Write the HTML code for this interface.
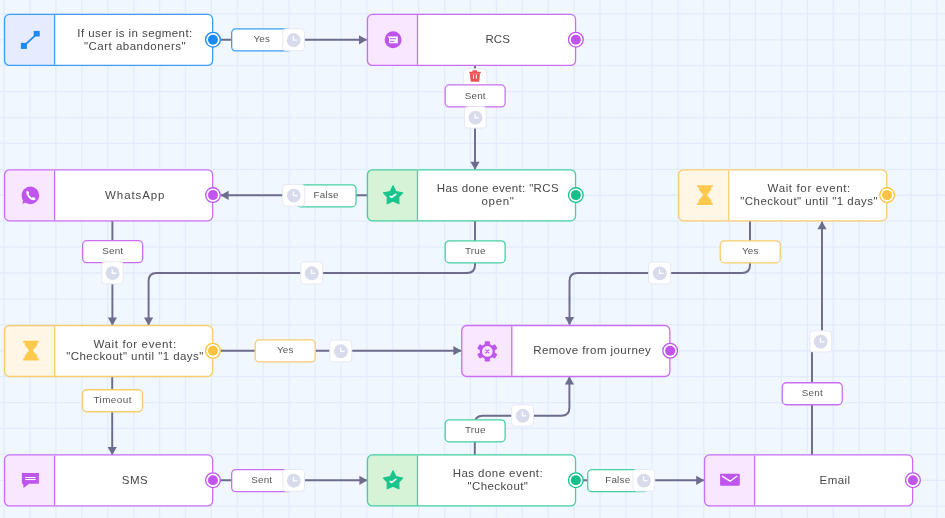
<!DOCTYPE html>
<html><head><meta charset="utf-8"><style>
*{box-sizing:border-box;margin:0;padding:0}
html,body{width:945px;height:518px;overflow:hidden;background:#f1f7ff;font-family:"Liberation Sans",sans-serif}
svg{display:block;position:absolute;left:0;top:0}
.t{position:absolute;text-align:center;white-space:nowrap}
.n{width:240px;font-size:11.5px;line-height:13px;color:#474747}
.l{width:80px;font-size:9.9px;line-height:12px;color:#575757}
</style></head><body>
<svg width="945" height="518" viewBox="0 0 945 518"><path d="M4.10 0V518M30.01 0V518M55.92 0V518M81.83 0V518M107.74 0V518M133.65 0V518M159.56 0V518M185.47 0V518M211.38 0V518M237.29 0V518M263.20 0V518M289.11 0V518M315.02 0V518M340.93 0V518M366.84 0V518M392.75 0V518M418.66 0V518M444.57 0V518M470.48 0V518M496.39 0V518M522.30 0V518M548.21 0V518M574.12 0V518M600.03 0V518M625.94 0V518M651.85 0V518M677.76 0V518M703.67 0V518M729.58 0V518M755.49 0V518M781.40 0V518M807.31 0V518M833.22 0V518M859.13 0V518M885.04 0V518M910.95 0V518M936.86 0V518M0 13.90H945M0 39.81H945M0 65.72H945M0 91.63H945M0 117.54H945M0 143.45H945M0 169.36H945M0 195.27H945M0 221.18H945M0 247.09H945M0 273.00H945M0 298.91H945M0 324.82H945M0 350.73H945M0 376.64H945M0 402.55H945M0 428.46H945M0 454.37H945M0 480.28H945M0 506.19H945" stroke="#e2ecfc" stroke-width="1.296" fill="none"/><path d="M213 39.8 H366.6" fill="none" stroke="#6d6c8d" stroke-width="1.94"/><polygon points="367,39.8 359,35.199999999999996 359,44.4" fill="#6d6c8d"/><path d="M475 65 V169.4" fill="none" stroke="#6d6c8d" stroke-width="1.94"/><polygon points="475,169.8 470.4,161.8 479.6,161.8" fill="#6d6c8d"/><path d="M367 195.3 H221" fill="none" stroke="#6d6c8d" stroke-width="1.94"/><polygon points="220.6,195.3 228.6,190.70000000000002 228.6,199.9" fill="#6d6c8d"/><path d="M112.4 221 V325" fill="none" stroke="#6d6c8d" stroke-width="1.94"/><polygon points="112.4,325.4 107.80000000000001,317.4 117.0,317.4" fill="#6d6c8d"/><path d="M475 221 V265 Q475 273 467 273 H156.6 Q148.6 273 148.6 281 V325" fill="none" stroke="#6d6c8d" stroke-width="1.94"/><polygon points="148.6,325.4 144.0,317.4 153.2,317.4" fill="#6d6c8d"/><path d="M213 350.7 H461" fill="none" stroke="#6d6c8d" stroke-width="1.94"/><polygon points="461.4,350.7 453.4,346.09999999999997 453.4,355.3" fill="#6d6c8d"/><path d="M112.2 376 V454.6" fill="none" stroke="#6d6c8d" stroke-width="1.94"/><polygon points="112.2,455 107.60000000000001,447 116.8,447" fill="#6d6c8d"/><path d="M213 480.3 H367" fill="none" stroke="#6d6c8d" stroke-width="1.94"/><polygon points="367.4,480.3 359.4,475.7 359.4,484.90000000000003" fill="#6d6c8d"/><path d="M474.8 455 V423.7 Q474.8 415.7 482.8 415.7 H561.4 Q569.4 415.7 569.4 407.7 V377" fill="none" stroke="#6d6c8d" stroke-width="1.94"/><polygon points="569.4,376.6 564.8,384.6 574.0,384.6" fill="#6d6c8d"/><path d="M576 480.3 H703.8" fill="none" stroke="#6d6c8d" stroke-width="1.94"/><polygon points="704.2,480.3 696.2,475.7 696.2,484.90000000000003" fill="#6d6c8d"/><path d="M812 455 V341.3 H822 V221.6" fill="none" stroke="#6d6c8d" stroke-width="1.94"/><polygon points="822,221.2 817.4,229.2 826.6,229.2" fill="#6d6c8d"/><path d="M750 221 V265 Q750 273 742 273 H577.5 Q569.5 273 569.5 281 V324.5" fill="none" stroke="#6d6c8d" stroke-width="1.94"/><polygon points="569.5,324.9 564.9,316.9 574.1,316.9" fill="#6d6c8d"/><rect x="4.55" y="14.45" width="208.10" height="51.00" rx="4.95" fill="#fff"/><path d="M9.50 14.45H54.60V65.45H9.50A4.95 4.95 0 0 1 4.55 60.50V19.40A4.95 4.95 0 0 1 9.50 14.45Z" fill="#e6ebff"/><path d="M54.60 15.10V64.80" stroke="#3c9ef5" stroke-width="1.3"/><rect x="4.55" y="14.45" width="208.10" height="51.00" rx="4.95" fill="none" stroke="#3c9ef5" stroke-width="1.3"/><g transform="translate(3.90,13.90)"><line x1="20" y1="32" x2="33" y2="20" stroke="#1b8af5" stroke-width="1.8"/><rect x="17" y="29" width="6" height="6" fill="#1b8af5"/><rect x="29.8" y="17" width="6" height="5.6" fill="#1b8af5"/></g><rect x="367.45" y="14.45" width="208.10" height="51.00" rx="4.95" fill="#fff"/><path d="M372.40 14.45H417.50V65.45H372.40A4.95 4.95 0 0 1 367.45 60.50V19.40A4.95 4.95 0 0 1 372.40 14.45Z" fill="#f9e6ff"/><path d="M417.50 15.10V64.80" stroke="#c970f2" stroke-width="1.3"/><rect x="367.45" y="14.45" width="208.10" height="51.00" rx="4.95" fill="none" stroke="#c970f2" stroke-width="1.3"/><g transform="translate(366.80,13.90)"><circle cx="26.3" cy="25.8" r="8.5" fill="#bf55ee"/><path d="M20.6 22.6 L30.6 22.6 Q31 22.6 31 23 L31 28.9 Q31 29.3 30.6 29.3 L22.6 29.3 Q22.2 29.3 22.2 28.9 L22.2 24.2 Z" fill="#fff"/><rect x="23.2" y="24.3" width="6" height="1" fill="#bf55ee"/><rect x="23.2" y="26.9" width="4.5" height="1" fill="#bf55ee"/></g><rect x="367.45" y="169.85" width="208.10" height="51.00" rx="4.95" fill="#fff"/><path d="M372.40 169.85H417.50V220.85H372.40A4.95 4.95 0 0 1 367.45 215.90V174.80A4.95 4.95 0 0 1 372.40 169.85Z" fill="#d6f2d7"/><path d="M417.50 170.50V220.20" stroke="#45cfa2" stroke-width="1.3"/><rect x="367.45" y="169.85" width="208.10" height="51.00" rx="4.95" fill="none" stroke="#45cfa2" stroke-width="1.3"/><g transform="translate(366.80,169.40)"><path d="M26.25 16.3 L29.0 22.1 L35.8 23.5 L32.0 27.5 L32.1 34.3 L26.25 31.6 L20.4 34.3 L20.5 27.5 L16.7 23.5 L23.5 22.1 Z" fill="#19c48d" stroke="#19c48d" stroke-width="1.2" stroke-linejoin="round"/><path d="M23.4 27.0 L24.9 27.9 L29.0 24.9" fill="none" stroke="#fff" stroke-opacity=".92" stroke-width="1.7" stroke-linecap="round" stroke-linejoin="round"/></g><rect x="4.55" y="169.85" width="208.10" height="51.00" rx="4.95" fill="#fff"/><path d="M9.50 169.85H54.60V220.85H9.50A4.95 4.95 0 0 1 4.55 215.90V174.80A4.95 4.95 0 0 1 9.50 169.85Z" fill="#f9e6ff"/><path d="M54.60 170.50V220.20" stroke="#c970f2" stroke-width="1.3"/><rect x="4.55" y="169.85" width="208.10" height="51.00" rx="4.95" fill="none" stroke="#c970f2" stroke-width="1.3"/><g transform="translate(3.90,169.40)"><circle cx="26.45" cy="26.0" r="8.8" fill="#bf55ee"/><path d="M18.4 34.3 L19.6 29.2 L23 32.8 Z" fill="#bf55ee"/><path transform="translate(26.9 26.3) scale(1.06) translate(-26.4 -25.6)" d="M22.3 21.6 C22.6 20.8 23.4 20.6 23.9 21.2 L24.8 22.8 C25 23.3 24.7 23.8 24.3 24.1 C24.9 25.6 26 26.8 27.6 27.5 C28 27.1 28.4 26.8 29 27 L30.6 27.9 C31.1 28.3 31 29.1 30.2 29.5 C28.8 30.2 26.9 29.7 25.1 28.2 C23.1 26.4 21.7 23.4 22.3 21.6 Z" fill="#fff"/></g><rect x="678.65" y="169.85" width="208.10" height="51.00" rx="4.95" fill="#fff"/><path d="M683.60 169.85H728.70V220.85H683.60A4.95 4.95 0 0 1 678.65 215.90V174.80A4.95 4.95 0 0 1 683.60 169.85Z" fill="#fff6e5"/><path d="M728.70 170.50V220.20" stroke="#f7cd6e" stroke-width="1.3"/><rect x="678.65" y="169.85" width="208.10" height="51.00" rx="4.95" fill="none" stroke="#f7cd6e" stroke-width="1.3"/><g transform="translate(678.00,169.40)"><path d="M19.2 15.8 H34.7 V17.9 H33.3 V20.1 L28.9 25.5 L33.3 30.9 V33.2 H34.7 V35.7 H19.2 V33.2 H20.8 V30.9 L25.1 25.5 L20.8 20.1 V17.9 H19.2 Z" fill="#ffc94e"/></g><rect x="4.55" y="325.50" width="208.10" height="51.00" rx="4.95" fill="#fff"/><path d="M9.50 325.50H54.60V376.50H9.50A4.95 4.95 0 0 1 4.55 371.55V330.45A4.95 4.95 0 0 1 9.50 325.50Z" fill="#fff6e5"/><path d="M54.60 326.15V375.85" stroke="#f7cd6e" stroke-width="1.3"/><rect x="4.55" y="325.50" width="208.10" height="51.00" rx="4.95" fill="none" stroke="#f7cd6e" stroke-width="1.3"/><g transform="translate(3.90,324.90)"><path d="M19.2 15.8 H34.7 V17.9 H33.3 V20.1 L28.9 25.5 L33.3 30.9 V33.2 H34.7 V35.7 H19.2 V33.2 H20.8 V30.9 L25.1 25.5 L20.8 20.1 V17.9 H19.2 Z" fill="#ffc94e"/></g><rect x="461.75" y="325.50" width="208.10" height="51.00" rx="4.95" fill="#fff"/><path d="M466.70 325.50H511.80V376.50H466.70A4.95 4.95 0 0 1 461.75 371.55V330.45A4.95 4.95 0 0 1 466.70 325.50Z" fill="#f9e6ff"/><path d="M511.80 326.15V375.85" stroke="#c970f2" stroke-width="1.3"/><rect x="461.75" y="325.50" width="208.10" height="51.00" rx="4.95" fill="none" stroke="#c970f2" stroke-width="1.3"/><g transform="translate(461.10,324.90)"><rect x="23.599999999999998" y="16.3" width="5.2" height="4.5" rx="0.8" fill="#bf55ee" transform="rotate(0 26.2 26.5)"/><rect x="23.599999999999998" y="16.3" width="5.2" height="4.5" rx="0.8" fill="#bf55ee" transform="rotate(60 26.2 26.5)"/><rect x="23.599999999999998" y="16.3" width="5.2" height="4.5" rx="0.8" fill="#bf55ee" transform="rotate(120 26.2 26.5)"/><rect x="23.599999999999998" y="16.3" width="5.2" height="4.5" rx="0.8" fill="#bf55ee" transform="rotate(180 26.2 26.5)"/><rect x="23.599999999999998" y="16.3" width="5.2" height="4.5" rx="0.8" fill="#bf55ee" transform="rotate(240 26.2 26.5)"/><rect x="23.599999999999998" y="16.3" width="5.2" height="4.5" rx="0.8" fill="#bf55ee" transform="rotate(300 26.2 26.5)"/><circle cx="26.2" cy="26.5" r="7.6" fill="#bf55ee"/><circle cx="26.2" cy="26.5" r="5.3" fill="#f9e6ff"/><path d="M24.599999999999998 24.9 L27.8 28.1 M27.8 24.9 L24.599999999999998 28.1" stroke="#bf55ee" stroke-width="1.1" stroke-linecap="round"/></g><rect x="4.55" y="454.95" width="208.10" height="51.00" rx="4.95" fill="#fff"/><path d="M9.50 454.95H54.60V505.95H9.50A4.95 4.95 0 0 1 4.55 501.00V459.90A4.95 4.95 0 0 1 9.50 454.95Z" fill="#f9e6ff"/><path d="M54.60 455.60V505.30" stroke="#c970f2" stroke-width="1.3"/><rect x="4.55" y="454.95" width="208.10" height="51.00" rx="4.95" fill="none" stroke="#c970f2" stroke-width="1.3"/><g transform="translate(3.90,454.50)"><path d="M18 18.4 H35 V29.3 H25.2 L19.7 33.4 L19.2 29.3 H18 Z" fill="#bf55ee"/><rect x="21.3" y="22.5" width="10.4" height="1.05" fill="#fff"/><rect x="21.3" y="24.5" width="10.4" height="1.05" fill="#fff"/></g><rect x="367.45" y="454.95" width="208.10" height="51.00" rx="4.95" fill="#fff"/><path d="M372.40 454.95H417.50V505.95H372.40A4.95 4.95 0 0 1 367.45 501.00V459.90A4.95 4.95 0 0 1 372.40 454.95Z" fill="#d6f2d7"/><path d="M417.50 455.60V505.30" stroke="#45cfa2" stroke-width="1.3"/><rect x="367.45" y="454.95" width="208.10" height="51.00" rx="4.95" fill="none" stroke="#45cfa2" stroke-width="1.3"/><g transform="translate(366.80,454.50)"><path d="M26.25 16.3 L29.0 22.1 L35.8 23.5 L32.0 27.5 L32.1 34.3 L26.25 31.6 L20.4 34.3 L20.5 27.5 L16.7 23.5 L23.5 22.1 Z" fill="#19c48d" stroke="#19c48d" stroke-width="1.2" stroke-linejoin="round"/><path d="M23.4 27.0 L24.9 27.9 L29.0 24.9" fill="none" stroke="#fff" stroke-opacity=".92" stroke-width="1.7" stroke-linecap="round" stroke-linejoin="round"/></g><rect x="704.55" y="454.95" width="208.10" height="51.00" rx="4.95" fill="#fff"/><path d="M709.50 454.95H754.60V505.95H709.50A4.95 4.95 0 0 1 704.55 501.00V459.90A4.95 4.95 0 0 1 709.50 454.95Z" fill="#f9e6ff"/><path d="M754.60 455.60V505.30" stroke="#c970f2" stroke-width="1.3"/><rect x="704.55" y="454.95" width="208.10" height="51.00" rx="4.95" fill="none" stroke="#c970f2" stroke-width="1.3"/><g transform="translate(703.90,454.50)"><rect x="16.2" y="19.3" width="19.7" height="12" rx="1" fill="#bf55ee"/><path d="M18.5 21.8 L26.2 26.7 L32.9 21.8" fill="none" stroke="#fff" stroke-width="1.4" stroke-linecap="round" stroke-linejoin="round"/></g><circle cx="212.95" cy="39.70" r="7.35" fill="#fff" stroke="#1b8af5" stroke-width="1.3"/><circle cx="212.95" cy="39.70" r="5.0" fill="#1b8af5"/><circle cx="575.85" cy="39.70" r="7.35" fill="#fff" stroke="#bf55ee" stroke-width="1.3"/><circle cx="575.85" cy="39.70" r="5.0" fill="#bf55ee"/><circle cx="575.85" cy="195.10" r="7.35" fill="#fff" stroke="#13c089" stroke-width="1.3"/><circle cx="575.85" cy="195.10" r="5.0" fill="#13c089"/><circle cx="212.95" cy="195.10" r="7.35" fill="#fff" stroke="#bf55ee" stroke-width="1.3"/><circle cx="212.95" cy="195.10" r="5.0" fill="#bf55ee"/><circle cx="887.05" cy="195.10" r="7.35" fill="#fff" stroke="#fcc340" stroke-width="1.3"/><circle cx="887.05" cy="195.10" r="5.0" fill="#fcc340"/><circle cx="212.95" cy="350.75" r="7.35" fill="#fff" stroke="#fcc340" stroke-width="1.3"/><circle cx="212.95" cy="350.75" r="5.0" fill="#fcc340"/><circle cx="670.15" cy="350.75" r="7.35" fill="#fff" stroke="#bf55ee" stroke-width="1.3"/><circle cx="670.15" cy="350.75" r="5.0" fill="#bf55ee"/><circle cx="212.95" cy="480.20" r="7.35" fill="#fff" stroke="#bf55ee" stroke-width="1.3"/><circle cx="212.95" cy="480.20" r="5.0" fill="#bf55ee"/><circle cx="575.85" cy="480.20" r="7.35" fill="#fff" stroke="#13c089" stroke-width="1.3"/><circle cx="575.85" cy="480.20" r="5.0" fill="#13c089"/><circle cx="912.95" cy="480.20" r="7.35" fill="#fff" stroke="#bf55ee" stroke-width="1.3"/><circle cx="912.95" cy="480.20" r="5.0" fill="#bf55ee"/><path d="M463.70 86.40V71.90A3.0 3.0 0 0 1 466.70 68.90H483.70A3.0 3.0 0 0 1 486.70 71.90V86.40" fill="#fff" stroke="#e6e9f3" stroke-width="1"/><g transform="translate(469.2,70.6)"><rect x="3.2" y="-0.4" width="4.6" height="1.9" rx="0.6" fill="#ef5252"/><rect x="-0.1" y="1.2" width="11.8" height="1.5" rx="0.5" fill="#ef5252"/><path d="M0.6 2.6 H10.8 L10.0 10.6 Q9.9 11.2 9.3 11.2 H2.1 Q1.5 11.2 1.4 10.6 Z" fill="#ef5252"/><rect x="3.8" y="3.9" width="1.0" height="4.3" fill="#fff"/><rect x="6.7" y="3.9" width="1.0" height="4.3" fill="#fff"/></g><rect x="231.65" y="28.95" width="60.00" height="22.00" rx="4.15" fill="#fff" stroke="#3c9ef5" stroke-width="1.3"/><rect x="445.15" y="84.95" width="60.00" height="22.00" rx="4.15" fill="#fff" stroke="#c970f2" stroke-width="1.3"/><rect x="296.05" y="184.85" width="60.00" height="22.00" rx="4.15" fill="#fff" stroke="#45cfa2" stroke-width="1.3"/><rect x="445.15" y="240.85" width="60.00" height="22.00" rx="4.15" fill="#fff" stroke="#45cfa2" stroke-width="1.3"/><rect x="82.65" y="240.65" width="60.00" height="22.00" rx="4.15" fill="#fff" stroke="#c970f2" stroke-width="1.3"/><rect x="255.15" y="339.95" width="60.00" height="22.00" rx="4.15" fill="#fff" stroke="#f7cd6e" stroke-width="1.3"/><rect x="82.45" y="389.75" width="60.00" height="22.00" rx="4.15" fill="#fff" stroke="#f7cd6e" stroke-width="1.3"/><rect x="231.65" y="469.65" width="60.00" height="22.00" rx="4.15" fill="#fff" stroke="#c970f2" stroke-width="1.3"/><rect x="445.15" y="419.85" width="60.00" height="22.00" rx="4.15" fill="#fff" stroke="#45cfa2" stroke-width="1.3"/><rect x="587.65" y="469.65" width="60.00" height="22.00" rx="4.15" fill="#fff" stroke="#45cfa2" stroke-width="1.3"/><rect x="782.25" y="382.75" width="60.00" height="22.00" rx="4.15" fill="#fff" stroke="#c970f2" stroke-width="1.3"/><rect x="720.25" y="240.85" width="60.00" height="22.00" rx="4.15" fill="#fff" stroke="#f7cd6e" stroke-width="1.3"/><rect x="282.70" y="28.80" width="21.70" height="21.90" rx="3.10" fill="#fff" stroke="#e6e9f3" stroke-width="1"/><g transform="translate(286.65,33.05)"><circle cx="7" cy="7" r="6.95" fill="#d7dbec"/><path d="M6.7 3.0 V7.1 H10.6" fill="none" stroke="#fff" stroke-width="1.3"/></g><rect x="464.50" y="106.70" width="21.70" height="21.40" rx="3.10" fill="#fff" stroke="#e6e9f3" stroke-width="1"/><g transform="translate(468.45,110.70)"><circle cx="7" cy="7" r="6.95" fill="#d7dbec"/><path d="M6.7 3.0 V7.1 H10.6" fill="none" stroke="#fff" stroke-width="1.3"/></g><rect x="282.70" y="184.50" width="22.00" height="21.60" rx="3.10" fill="#fff" stroke="#e6e9f3" stroke-width="1"/><g transform="translate(286.80,188.60)"><circle cx="7" cy="7" r="6.95" fill="#d7dbec"/><path d="M6.7 3.0 V7.1 H10.6" fill="none" stroke="#fff" stroke-width="1.3"/></g><rect x="300.70" y="261.90" width="22.00" height="22.20" rx="3.10" fill="#fff" stroke="#e6e9f3" stroke-width="1"/><g transform="translate(304.80,266.30)"><circle cx="7" cy="7" r="6.95" fill="#d7dbec"/><path d="M6.7 3.0 V7.1 H10.6" fill="none" stroke="#fff" stroke-width="1.3"/></g><rect x="101.80" y="261.80" width="21.30" height="22.10" rx="3.10" fill="#fff" stroke="#e6e9f3" stroke-width="1"/><g transform="translate(105.55,266.15)"><circle cx="7" cy="7" r="6.95" fill="#d7dbec"/><path d="M6.7 3.0 V7.1 H10.6" fill="none" stroke="#fff" stroke-width="1.3"/></g><rect x="329.80" y="340.10" width="22.00" height="21.80" rx="3.10" fill="#fff" stroke="#e6e9f3" stroke-width="1"/><g transform="translate(333.90,344.30)"><circle cx="7" cy="7" r="6.95" fill="#d7dbec"/><path d="M6.7 3.0 V7.1 H10.6" fill="none" stroke="#fff" stroke-width="1.3"/></g><rect x="282.90" y="469.50" width="21.60" height="21.80" rx="3.10" fill="#fff" stroke="#e6e9f3" stroke-width="1"/><g transform="translate(286.80,473.70)"><circle cx="7" cy="7" r="6.95" fill="#d7dbec"/><path d="M6.7 3.0 V7.1 H10.6" fill="none" stroke="#fff" stroke-width="1.3"/></g><rect x="511.70" y="404.80" width="21.80" height="21.40" rx="3.10" fill="#fff" stroke="#e6e9f3" stroke-width="1"/><g transform="translate(515.70,408.80)"><circle cx="7" cy="7" r="6.95" fill="#d7dbec"/><path d="M6.7 3.0 V7.1 H10.6" fill="none" stroke="#fff" stroke-width="1.3"/></g><rect x="633.00" y="469.50" width="21.70" height="21.60" rx="3.10" fill="#fff" stroke="#e6e9f3" stroke-width="1"/><g transform="translate(636.95,473.60)"><circle cx="7" cy="7" r="6.95" fill="#d7dbec"/><path d="M6.7 3.0 V7.1 H10.6" fill="none" stroke="#fff" stroke-width="1.3"/></g><rect x="809.80" y="330.80" width="21.60" height="21.20" rx="3.10" fill="#fff" stroke="#e6e9f3" stroke-width="1"/><g transform="translate(813.70,334.70)"><circle cx="7" cy="7" r="6.95" fill="#d7dbec"/><path d="M6.7 3.0 V7.1 H10.6" fill="none" stroke="#fff" stroke-width="1.3"/></g><rect x="648.70" y="262.10" width="22.00" height="21.90" rx="3.10" fill="#fff" stroke="#e6e9f3" stroke-width="1"/><g transform="translate(652.80,266.35)"><circle cx="7" cy="7" r="6.95" fill="#d7dbec"/><path d="M6.7 3.0 V7.1 H10.6" fill="none" stroke="#fff" stroke-width="1.3"/></g></svg>
<div style="position:absolute;left:0;top:0;width:945px;height:518px;will-change:transform">
<div class="t n" style="left:15.01px;top:27px;letter-spacing:0.419px">If user is in segment:</div>
<div class="t n" style="left:15.05px;top:40px;letter-spacing:0.490px">"Cart abandoners"</div>
<div class="t n" style="left:377.70px;top:33px;letter-spacing:0.000px">RCS</div>
<div class="t n" style="left:377.87px;top:182px;letter-spacing:0.340px">Has done event: "RCS</div>
<div class="t n" style="left:378.05px;top:195px;letter-spacing:0.700px">open"</div>
<div class="t n" style="left:15.25px;top:189px;letter-spacing:0.900px">WhatsApp</div>
<div class="t n" style="left:689.22px;top:182px;letter-spacing:0.640px">Wait for event:</div>
<div class="t n" style="left:689.13px;top:195px;letter-spacing:0.454px">"Checkout" until "1 days"</div>
<div class="t n" style="left:15.12px;top:338px;letter-spacing:0.640px">Wait for event:</div>
<div class="t n" style="left:15.03px;top:350px;letter-spacing:0.454px">"Checkout" until "1 days"</div>
<div class="t n" style="left:472.21px;top:344px;letter-spacing:0.428px">Remove from journey</div>
<div class="t n" style="left:15.05px;top:474px;letter-spacing:0.500px">SMS</div>
<div class="t n" style="left:377.92px;top:467px;letter-spacing:0.443px">Has done event:</div>
<div class="t n" style="left:377.90px;top:480px;letter-spacing:0.400px">"Checkout"</div>
<div class="t n" style="left:715.00px;top:474px;letter-spacing:0.400px">Email</div>
<div class="t l" style="left:221.75px;top:33px;letter-spacing:0.2px">Yes</div>
<div class="t l" style="left:435.25px;top:90px;letter-spacing:0.2px">Sent</div>
<div class="t l" style="left:286.15px;top:189px;letter-spacing:0.2px">False</div>
<div class="t l" style="left:435.25px;top:245px;letter-spacing:0.2px">True</div>
<div class="t l" style="left:72.75px;top:245px;letter-spacing:0.2px">Sent</div>
<div class="t l" style="left:245.25px;top:344px;letter-spacing:0.2px">Yes</div>
<div class="t l" style="left:72.67px;top:394px;letter-spacing:0.45px">Timeout</div>
<div class="t l" style="left:221.75px;top:474px;letter-spacing:0.2px">Sent</div>
<div class="t l" style="left:435.25px;top:424px;letter-spacing:0.2px">True</div>
<div class="t l" style="left:577.75px;top:474px;letter-spacing:0.2px">False</div>
<div class="t l" style="left:772.35px;top:387px;letter-spacing:0.2px">Sent</div>
<div class="t l" style="left:710.35px;top:245px;letter-spacing:0.2px">Yes</div>
</div></body></html>
